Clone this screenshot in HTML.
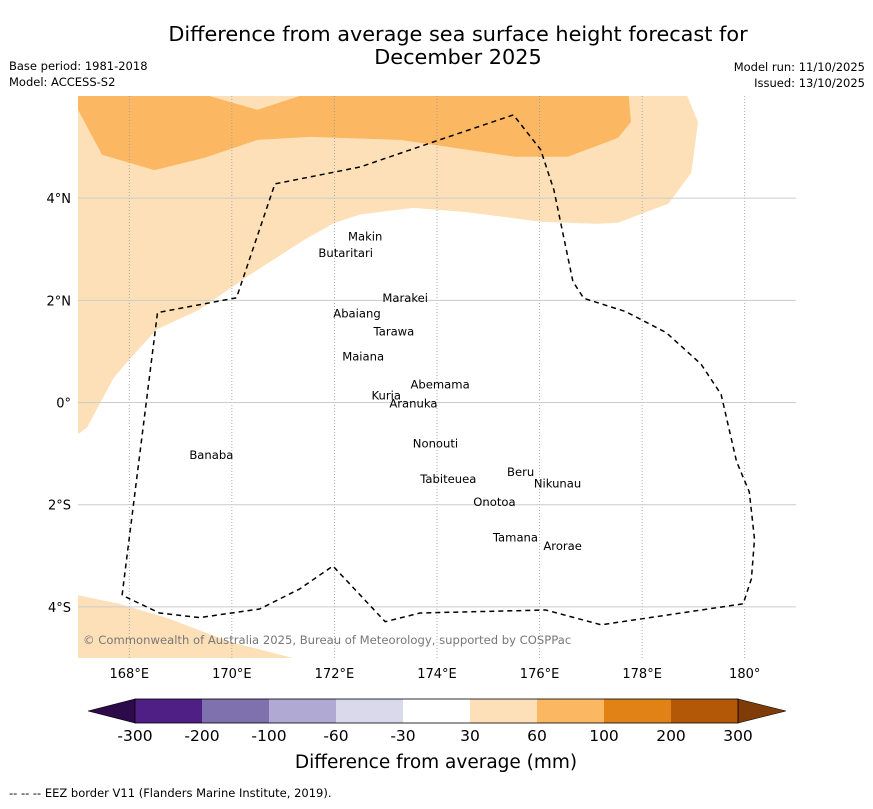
<!DOCTYPE html>
<html><head><meta charset="utf-8"><style>
body{margin:0;background:#fff;}
svg text{font-family:"DejaVu Sans","Liberation Sans",sans-serif;}
</style></head><body>
<svg id="c" width="873" height="804" xmlns="http://www.w3.org/2000/svg">
<text x="458" y="41" font-size="20.8" text-anchor="middle">Difference from average sea surface height forecast for</text>
<text x="458" y="64" font-size="20.8" text-anchor="middle">December 2025</text>
<text x="9" y="70" font-size="11.5">Base period: 1981-2018</text>
<text x="9" y="86" font-size="11.5">Model: ACCESS-S2</text>
<text x="865" y="71" font-size="11.5" text-anchor="end">Model run: 11/10/2025</text>
<text x="865" y="87" font-size="11.5" text-anchor="end">Issued: 13/10/2025</text>
<g id="map"></g>
<g id="cbar"></g>
<text x="436" y="768" font-size="18.5" text-anchor="middle">Difference from average (mm)</text>
<text x="9" y="797" font-size="11.5">--  --  -- EEZ border V11 (Flanders Marine Institute, 2019).</text>
</svg>
<script>
const lonMin=167,lonMax=181,latMin=-5,latMax=6;
const lonTicks=[168,170,172,174,176,178,180];
const lonTickLabels=["168°E","170°E","172°E","174°E","176°E","178°E","180°"];
const latTicks=[4,2,0,-2,-4];
const latTickLabels=["4°N","2°N","0°","2°S","4°S"];
const lightContour=[[167,6],[178.88,6],[179.09,5.49],[178.96,4.5],[178.51,3.89],[177.53,3.52],[177.1,3.5],[176.02,3.54],[174.55,3.73],[173.54,3.81],[172.5,3.68],[172.01,3.52],[171.42,3.19],[170.35,2.5],[169.37,1.82],[168.53,1.43],[168.0,0.84],[167.7,0.49],[167.18,-0.48],[167,-0.62]];
const lightContour2=[[167,-3.77],[167.8,-3.94],[168.78,-4.23],[169.95,-4.68],[171.19,-5],[167,-5]];
const orangeContour=[[167,5.73],[167.47,4.85],[168.49,4.55],[169.47,4.79],[170.5,5.14],[171.52,5.2],[173.28,5.14],[175.53,4.81],[176.55,4.81],[177.53,5.18],[177.78,5.49],[177.74,6],[171.32,6],[170.5,5.73],[169.56,6],[167,6]];
const eez=[[167.86,-3.77],[168.55,1.76],[170.09,2.05],[170.84,4.28],[172.5,4.61],[173.87,5.08],[175.49,5.63],[176.02,4.95],[176.28,4.16],[176.65,2.37],[176.86,2.04],[177.68,1.78],[178.47,1.37],[179.15,0.75],[179.54,0.16],[179.84,-1.15],[180.09,-1.75],[180.19,-2.67],[180.13,-3.45],[179.97,-3.94],[177.2,-4.35],[176.12,-4.06],[173.67,-4.12],[172.99,-4.29],[171.97,-3.2],[171.32,-3.65],[170.54,-4.04],[169.37,-4.21],[168.59,-4.12],[167.86,-3.77]];
const islandNames=["Makin","Butaritari","Marakei","Abaiang","Tarawa","Maiana","Abemama","Kuria","Aranuka","Nonouti","Tabiteuea","Beru","Nikunau","Onotoa","Tamana","Arorae","Banaba"];
const islandLon=[172.6,172.22,173.38,172.44,173.16,172.56,174.06,173.01,173.54,173.97,174.22,175.63,176.35,175.12,175.53,176.45,169.6];
const islandLat=[3.25,2.93,2.05,1.74,1.39,0.9,0.35,0.14,-0.02,-0.8,-1.5,-1.36,-1.58,-1.95,-2.64,-2.81,-1.03];
const cbLevels=["-300","-200","-100","-60","-30","30","60","100","200","300"];
const cbColors=["#4f1f86","#7f71ad","#b0a9d3","#d9d9eb","#ffffff","#fde0b7","#fbb762","#e08215","#b35807"];
const cbUnder="#2d0a4a",cbOver="#7f3b08";

const X0=78,X1=796,Y0=96,Y1=658;
const sx=lon=>X0+(lon-lonMin)/(lonMax-lonMin)*(X1-X0);
const sy=lat=>Y0+(latMax-lat)/(latMax-latMin)*(Y1-Y0);
const NS="http://www.w3.org/2000/svg";
function mk(p,t,a){const e=document.createElementNS(NS,t);for(const k in a)e.setAttribute(k,a[k]);p.appendChild(e);return e;}
const map=document.getElementById('map');
const pts=arr=>arr.map(p=>sx(p[0]).toFixed(1)+','+sy(p[1]).toFixed(1)).join(' ');
let e;
e=mk(map,'polygon',{points:pts(lightContour),fill:'#fde0b7'});


e=mk(map,'polygon',{points:pts(lightContour2),fill:'#fde0b7'});


e=mk(map,'polygon',{points:pts(orangeContour),fill:'#fbb762'});


lonTicks.forEach((v,i)=>{
 e=mk(map,'line',{x1:sx(v),x2:sx(v),y1:Y0,y2:Y1,stroke:'#999',"stroke-width":0.8,"stroke-dasharray":"1,2"});
 
 
 e=mk(map,'text',{x:sx(v),y:678,"font-size":13,"text-anchor":"middle"});e.textContent=lonTickLabels[i];
 
 
});
latTicks.forEach((v,i)=>{
 e=mk(map,'line',{x1:X0,x2:X1,y1:sy(v),y2:sy(v),stroke:'#ccc',"stroke-width":1});
 
 
 e=mk(map,'text',{x:71,y:sy(v)+5,"font-size":13,"text-anchor":"end"});e.textContent=latTickLabels[i];
 
 
});
e=mk(map,'polyline',{points:pts(eez),fill:'none',stroke:'#000',"stroke-width":1.5,"stroke-dasharray":"5,4"});


islandNames.forEach((n,i)=>{
 e=mk(map,'text',{x:sx(islandLon[i]),y:sy(islandLat[i])+4,"font-size":11.6,"text-anchor":"middle"});e.textContent=n;
 
 
});
e=mk(map,'text',{x:83,y:644,"font-size":11.6,fill:'#777'});e.textContent="© Commonwealth of Australia 2025, Bureau of Meteorology, supported by COSPPac";



const cb=document.getElementById('cbar');
const CX0=135,CX1=738,CY=699,CH=24,n=cbColors.length,w=(CX1-CX0)/n;
e=mk(cb,'polygon',{points:`${CX0},${CY} ${CX0},${CY+CH} 88,${CY+CH/2}`,fill:cbUnder,stroke:'#000',"stroke-width":0.6});


e=mk(cb,'polygon',{points:`${CX1},${CY} ${CX1},${CY+CH} 786,${CY+CH/2}`,fill:cbOver,stroke:'#000',"stroke-width":0.6});


cbColors.forEach((c,i)=>{
 e=mk(cb,'rect',{x:CX0+i*w,y:CY,width:w,height:CH,fill:c});
 
 
});
e=mk(cb,'rect',{x:CX0,y:CY,width:CX1-CX0,height:CH,fill:'none',stroke:'#000',"stroke-width":0.8});


cbLevels.forEach((l,i)=>{
 e=mk(cb,'text',{x:CX0+i*w,y:741,"font-size":15.5,"text-anchor":"middle"});e.textContent=l;
 
 
});
</script>
</body></html>
